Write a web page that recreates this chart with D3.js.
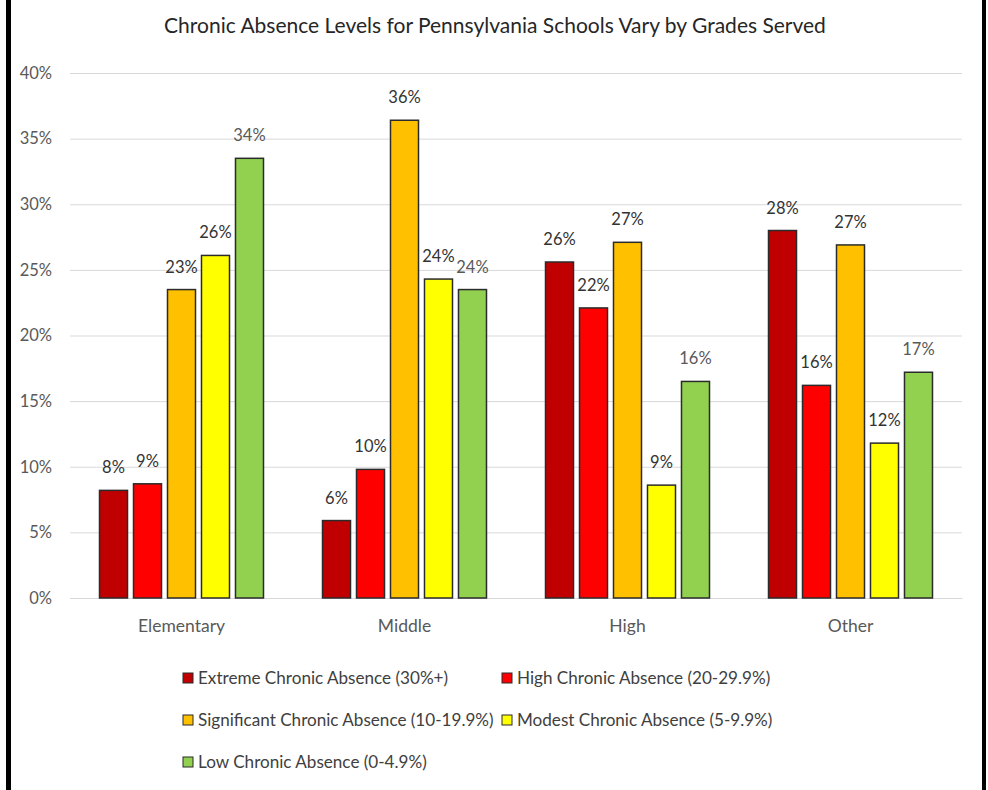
<!DOCTYPE html>
<html>
<head>
<meta charset="utf-8">
<script src="https://cdn.jsdelivr.net/npm/d3@7/dist/d3.min.js"></script>
<style>
  html, body { margin: 0; padding: 0; background: #fff; }
  svg { display: block; }
  text { font-family: Lato, "Open Sans", sans-serif; }
</style>
</head>
<body>
<svg id="chart" width="988" height="790"></svg>
<script>
const categories = ["Elementary", "Middle", "High", "Other"];
const seriesNames = [
  "Extreme Chronic Absence (30%+)",
  "High Chronic Absence (20-29.9%)",
  "Significant Chronic Absence (10-19.9%)",
  "Modest Chronic Absence (5-9.9%)",
  "Low Chronic Absence (0-4.9%)"
];
const extremeValues     = [8.2, 5.9, 25.6, 28.0];
const highValues        = [8.7, 9.8, 22.1, 16.2];
const significantValues = [23.5, 36.4, 27.1, 26.9];
const modestValues      = [26.1, 24.3, 8.6, 11.8];
const lowValues         = [33.5, 23.5, 16.5, 17.2];
const dataLabels = [
  ["8%", "6%", "26%", "28%"],
  ["9%", "10%", "22%", "16%"],
  ["23%", "36%", "27%", "27%"],
  ["26%", "24%", "9%", "12%"],
  ["34%", "24%", "16%", "17%"]
];
const yTicks = [0, 5, 10, 15, 20, 25, 30, 35, 40];
const colors = ["#C00000", "#FF0000", "#FFC000", "#FFFF00", "#92D050"];
const labelColors = ["#333333", "#333333", "#333333", "#333333", "#595959"];

const seriesValues = [extremeValues, highValues, significantValues, modestValues, lowValues];

const svg = d3.select("#chart");

// frame borders
svg.append("rect").attr("x", 6).attr("y", 0).attr("width", 5).attr("height", 790).attr("fill", "#000");
svg.append("rect").attr("x", 982).attr("y", 0).attr("width", 4).attr("height", 790).attr("fill", "#000");

const x0 = d3.scaleBand().domain(categories).range([70, 962]).paddingInner(0.2646).paddingOuter(0.1323);
const x1 = d3.scaleBand().domain(d3.range(5)).range([0, x0.bandwidth()]).paddingInner(0.176).paddingOuter(0);
const y = d3.scaleLinear().domain([0, 40]).range([598, 73]);

// title
svg.append("text").attr("x", 495).attr("y", 33).attr("text-anchor", "middle")
  .attr("font-size", 21).attr("fill", "#262626")
  .text("Chronic Absence Levels for Pennsylvania Schools Vary by Grades Served");

// gridlines
const yAxis = d3.axisLeft(y).tickValues(yTicks).tickFormat(d => d + "%").tickSize(-(962 - 70)).tickPadding(18);
const gy = svg.append("g").attr("transform", "translate(70,0)").call(yAxis);
gy.select(".domain").remove();
gy.selectAll(".tick line").attr("stroke", "#d9d9d9").attr("stroke-width", 1);
gy.selectAll(".tick text").attr("font-size", 16.5).attr("fill", "#595959").attr("font-family", "Lato, sans-serif");

// x axis labels
const xAxis = d3.axisBottom(x0).tickSize(0).tickPadding(22);
const gx = svg.append("g").attr("transform", "translate(0,598)").call(xAxis);
gx.select(".domain").attr("stroke", "#d9d9d9");
gx.selectAll(".tick text").attr("font-size", 17.5).attr("fill", "#595959").attr("font-family", "Lato, sans-serif");

// bars
const rows = [];
categories.forEach((c, ci) => {
  seriesValues.forEach((vals, si) => {
    rows.push({ cat: c, s: si, v: vals[ci], label: dataLabels[si][ci] });
  });
});

const g = svg.append("g");
g.selectAll("rect.bar").data(rows).join("rect").attr("class", "bar")
  .attr("x", d => x0(d.cat) + x1(d.s))
  .attr("y", d => y(d.v))
  .attr("width", x1.bandwidth())
  .attr("height", d => y(0) - y(d.v))
  .attr("fill", d => colors[d.s])
  .attr("stroke", "#2b2b2b").attr("stroke-width", 1.5);

g.selectAll("text.lbl").data(rows).join("text").attr("class", "lbl")
  .attr("x", d => x0(d.cat) + x1(d.s) + x1.bandwidth() / 2)
  .attr("y", d => y(d.v) - 17)
  .attr("text-anchor", "middle")
  .attr("font-size", 16.5)
  .attr("fill", d => labelColors[d.s])
  .text(d => d.label);

// legend
const legendPos = [[183, 678], [502, 678], [183, 720], [502, 720], [183, 762]];
const lg = svg.append("g");
seriesNames.forEach((name, i) => {
  const [lx, ly] = legendPos[i];
  lg.append("rect").attr("x", lx).attr("y", ly - 5).attr("width", 10).attr("height", 10)
    .attr("fill", colors[i]).attr("stroke", "#2b2b2b").attr("stroke-width", 1);
  lg.append("text").attr("x", lx + 15).attr("y", ly + 6).attr("font-size", 17.1)
    .attr("fill", "#404040").text(name);
});
</script>
</body>
</html>
